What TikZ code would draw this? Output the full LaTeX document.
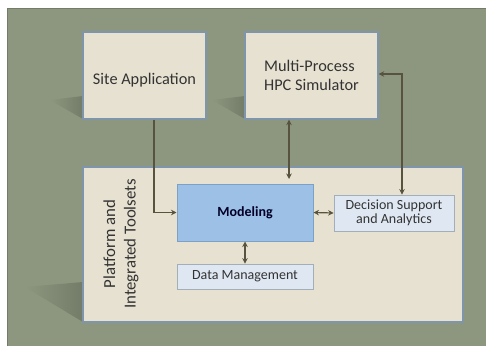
\documentclass[tikz,border=0pt]{standalone}
\usepackage{fontspec}
\setmainfont{Carlito}
\usetikzlibrary{arrows.meta,positioning}
\definecolor{PageBG}{HTML}{8D977F}
\definecolor{BoxBG}{HTML}{E7E1D1}
\definecolor{BoxFrame}{HTML}{7E95AB}
\definecolor{ModBG}{HTML}{9DC0E7}
\definecolor{ModFrame}{HTML}{7DA0C6}
\definecolor{SubBG}{HTML}{DFE7F2}
\definecolor{SubFrame}{HTML}{A3AEBB}
\definecolor{ArrCol}{HTML}{57533F}
\definecolor{TxtCol}{HTML}{333333}
\definecolor{ShadCol}{HTML}{737C68}

\begin{document}
\begin{tikzpicture}[x=1pt,y=-1pt,
  every node/.style={text=TxtCol},
  blk/.style={draw=BoxFrame, line width=1.4pt, fill=BoxBG, inner sep=0pt,
              font=\fontsize{16.3}{19.5}\selectfont},
  sub/.style={draw=SubFrame, line width=0.8pt, fill=SubBG, inner sep=0pt,
              font=\fontsize{14}{13.5}\selectfont},
  lnk/.style={draw=ArrCol, line width=1.2pt},
  >={Stealth[length=5.5pt,width=5.5pt]}]
  \useasboundingbox (0,0) rectangle (486,348);
  \fill[white] (0,0) rectangle (486,348);
  \fill[PageBG] (7,8) rectangle (486,346);
  \draw[ShadCol,line width=0.6pt] (7,346) -- (7,8) -- (486,8);
  % shadows
  \shade[left color=PageBG,right color=ShadCol] (50,100) -- (83,96) -- (83,119) -- cycle;
  \shade[left color=PageBG,right color=ShadCol] (212,100) -- (245,96) -- (245,119) -- cycle;
  \shade[left color=PageBG,right color=ShadCol] (25,287) -- (83,282) -- (83,322) -- cycle;
  % boxes
  \node[blk,minimum width=123pt,minimum height=87pt] (site) at (144.5,75.5) {};
  \node[font=\fontsize{16.3}{19.5}\selectfont] (sitelbl) at (144.5,80) {Site Application};
  \node[blk,minimum width=133pt,minimum height=87pt,align=left] (hpc) at (311.5,75.5)
    {Multi-Process\\HPC Simulator};
  \node[blk,minimum width=380pt,minimum height=155pt] (plat) at (273,244.5) {};
  \node[rotate=90,align=center,font=\fontsize{16.8}{20.5}\selectfont] (platlbl) at (121,244)
    {Platform and\\Integrated Toolsets};
  \node[draw=ModFrame,line width=1pt,fill=ModBG,minimum width=136pt,minimum height=57pt,
        font=\fontsize{14}{16}\selectfont\bfseries,text=black!75!blue!60!black] (model) at (245,212.5) {Modeling};
  \node[sub,minimum width=120pt,minimum height=36pt,align=center] (dss) at (394,213)
    {Decision Support\\and Analytics};
  \node[sub,minimum width=136pt,minimum height=25pt] (data) at (245,276.5) {Data Management};
  \coordinate (hpcend) at (289,179);
  % connectors
  \draw[lnk,->] ([xshift=9.5pt]site.south) |- (model.west);
  \draw[lnk,<->] ([xshift=-22.5pt]hpc.south) -- (hpcend);
  \draw[lnk,<->] ([yshift=1.5pt]hpc.east) -| ([xshift=8pt]dss.north);
  \draw[lnk,<->] (model.east) -- (dss.west);
  \draw[lnk,<->] (model.south) -- (data.north);
\end{tikzpicture}
\end{document}
